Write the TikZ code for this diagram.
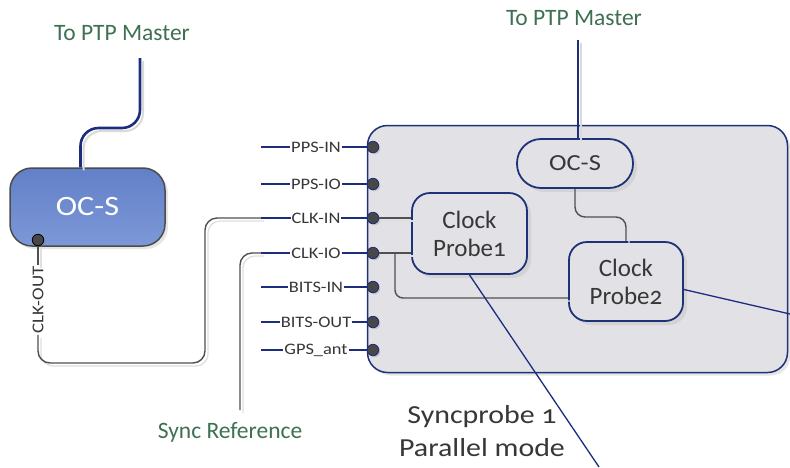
\documentclass[tikz,border=0pt]{standalone}
\usepackage{fontspec}
\setmainfont{Carlito}[Numbers=OldStyle]
\newfontfamily\widefont{Carlito}[FakeStretch=1.15,Numbers=OldStyle]
\usetikzlibrary{calc,shadows}
\definecolor{wireblue}{RGB}{28,45,125}
\definecolor{edgeblue}{RGB}{30,50,120}
\definecolor{ptpgreen}{RGB}{62,112,82}
\definecolor{txtgray}{RGB}{55,55,55}
\definecolor{wiregray}{RGB}{80,80,80}
\definecolor{boxgray}{RGB}{226,226,230}
\tikzset{
  greentxt/.style={text=ptpgreen, font=\fontsize{23.5}{26}\selectfont},
  portlbl/.style={fill=white, inner sep=1pt, text=txtgray, font=\widefont\fontsize{16}{18}\selectfont},
  portline/.style={draw=wireblue, line width=1.4pt},
  portdot/.style={circle, fill=black!72, draw=wireblue, line width=0.8pt, minimum size=11.5pt, inner sep=0pt,
    drop shadow={opacity=0.3, shadow xshift=1.5pt, shadow yshift=-1.5pt}},
  innerbox/.style={draw=edgeblue, line width=1.8pt, fill=boxgray, rounded corners=18pt, text=txtgray,
    font=\fontsize{25}{28}\selectfont, align=center, inner sep=0pt,
    drop shadow={opacity=0.15, shadow xshift=4pt, shadow yshift=-4pt}},
  gwire/.style={draw=wiregray, line width=1.4pt, rounded corners=12pt,
    preaction={draw=black!12, line width=1.3pt, transform canvas={shift={(3pt,-3pt)}}}},
  bwire/.style={draw=wireblue, line width=2.6pt,
    preaction={draw=black!15, line width=2pt, transform canvas={shift={(3pt,-3pt)}}}},
  thinblue/.style={draw=wireblue, line width=1.3pt}
}
\begin{document}
\begin{tikzpicture}[x=1pt,y=-1pt]
\fill[white] (0,0) rectangle (790,467);
\useasboundingbox (0,0) rectangle (790,467);

% main box
\node[draw=edgeblue, line width=1.5pt, fill=boxgray, rounded corners=20pt,
      minimum width=420pt, minimum height=247pt,
      drop shadow={opacity=0.2, shadow xshift=3pt, shadow yshift=-3pt}] (main) at (577.5,249) {};

% left OC-S
\node[draw=black!70, line width=1.5pt, top color={rgb,255:red,98;green,128;blue,200},
      bottom color={rgb,255:red,125;green,152;blue,215}, rounded corners=22pt,
      minimum width=155pt, minimum height=78pt, text=white,
      font=\widefont\fontsize{28}{32}\selectfont,
      drop shadow={opacity=0.2, shadow xshift=3pt, shadow yshift=-3pt}] (ocsL) at (87.5,207) {OC-S};

% inner boxes
\node[innerbox, rounded corners=24pt, minimum width=116pt, minimum height=49pt,
      font=\widefont\fontsize{23}{26}\selectfont] (ocsI) at (575,163.5) {OC-S};
\node[innerbox, minimum width=115pt, minimum height=81pt] (p1) at (469.5,233.5) {Clock\\Probe1};
\node[innerbox, minimum width=114pt, minimum height=79pt] (p2) at (626,281.5) {Clock\\Probe2};

% text labels
\node[greentxt] (tpm1) at (122,33) {To PTP Master};
\node[greentxt] (tpm2) at (574,18) {To PTP Master};
\node[greentxt] (sr) at (230,432) {Sync Reference};
\node[align=center, text=txtgray, font=\widefont\fontsize{26}{33}\selectfont] (sp) at (482,431) {Syncprobe 1\\Parallel mode};

% coordinates
\coordinate (t1) at (140,58);
\coordinate (t2) at (578,40);
\coordinate (srend) at (240,410);
\coordinate (e1) at (599,467);
\coordinate (e2) at (790,314);
\coordinate (br) at (395,253);

% ports
\foreach \nm/\yy in {a/147, b/184, c/218, d/253, e/287, f/322, g/350} {
  \coordinate (pl\nm) at (261,\yy);
  \coordinate (pm\nm) at (373,\yy);
}

% wires to PTP master
\draw[bwire, rounded corners=18pt] ($(ocsL.north)+(-7,0)$) -- (80.5,128) -- (140,128) -- (t1);
\draw[bwire] (t2) -- (t2 |- ocsI.north);

% CLK-OUT
\node[portdot, draw=black] (co) at (38,240) {};
\node[rotate=90, fill=white, inner sep=1pt, text=txtgray, font=\widefont\fontsize{16.5}{18}\selectfont] (colbl) at (38,300) {CLK-OUT};
\draw[gwire] (co) -- (colbl);
\draw[gwire] (colbl) -- (38,363) -- (205,363) -- (205,218) -- (plc);

% Sync reference
\draw[gwire] (pld) -- (240,253) -- (srend);

% inner wires
\draw[gwire] (pmc) -- (pmc -| p1.west);
\draw[gwire] (pmd) -- (pmd -| p1.west);
\draw[gwire, rounded corners=8pt] (br) -- (395,298) -- ($(p2.west)+(0,16.5)$);
\draw[gwire, rounded corners=10pt] (ocsI.south) -- (575,217) -- (626,217) -- (p2.north);

% port lines, dots, labels
\foreach \nm in {a,b,c,d,e,f,g} {
  \draw[portline] (pl\nm) -- (pm\nm);
}
\foreach \nm/\lbl/\yy in {a/PPS-IN/147, b/PPS-IO/184, c/CLK-IN/218, d/CLK-IO/253, e/BITS-IN/287, f/BITS-OUT/322, g/GPS\_ant/350} {
  \node[portdot] (pd\nm) at (pm\nm) {};
  \node[portlbl] (pn\nm) at (316,\yy) {\lbl};
}

% outer pointer lines
\draw[thinblue] (p1.south) -- (e1);
\draw[thinblue] ($(p2.east)+(0,8)$) -- (e2);
\end{tikzpicture}
\end{document}
